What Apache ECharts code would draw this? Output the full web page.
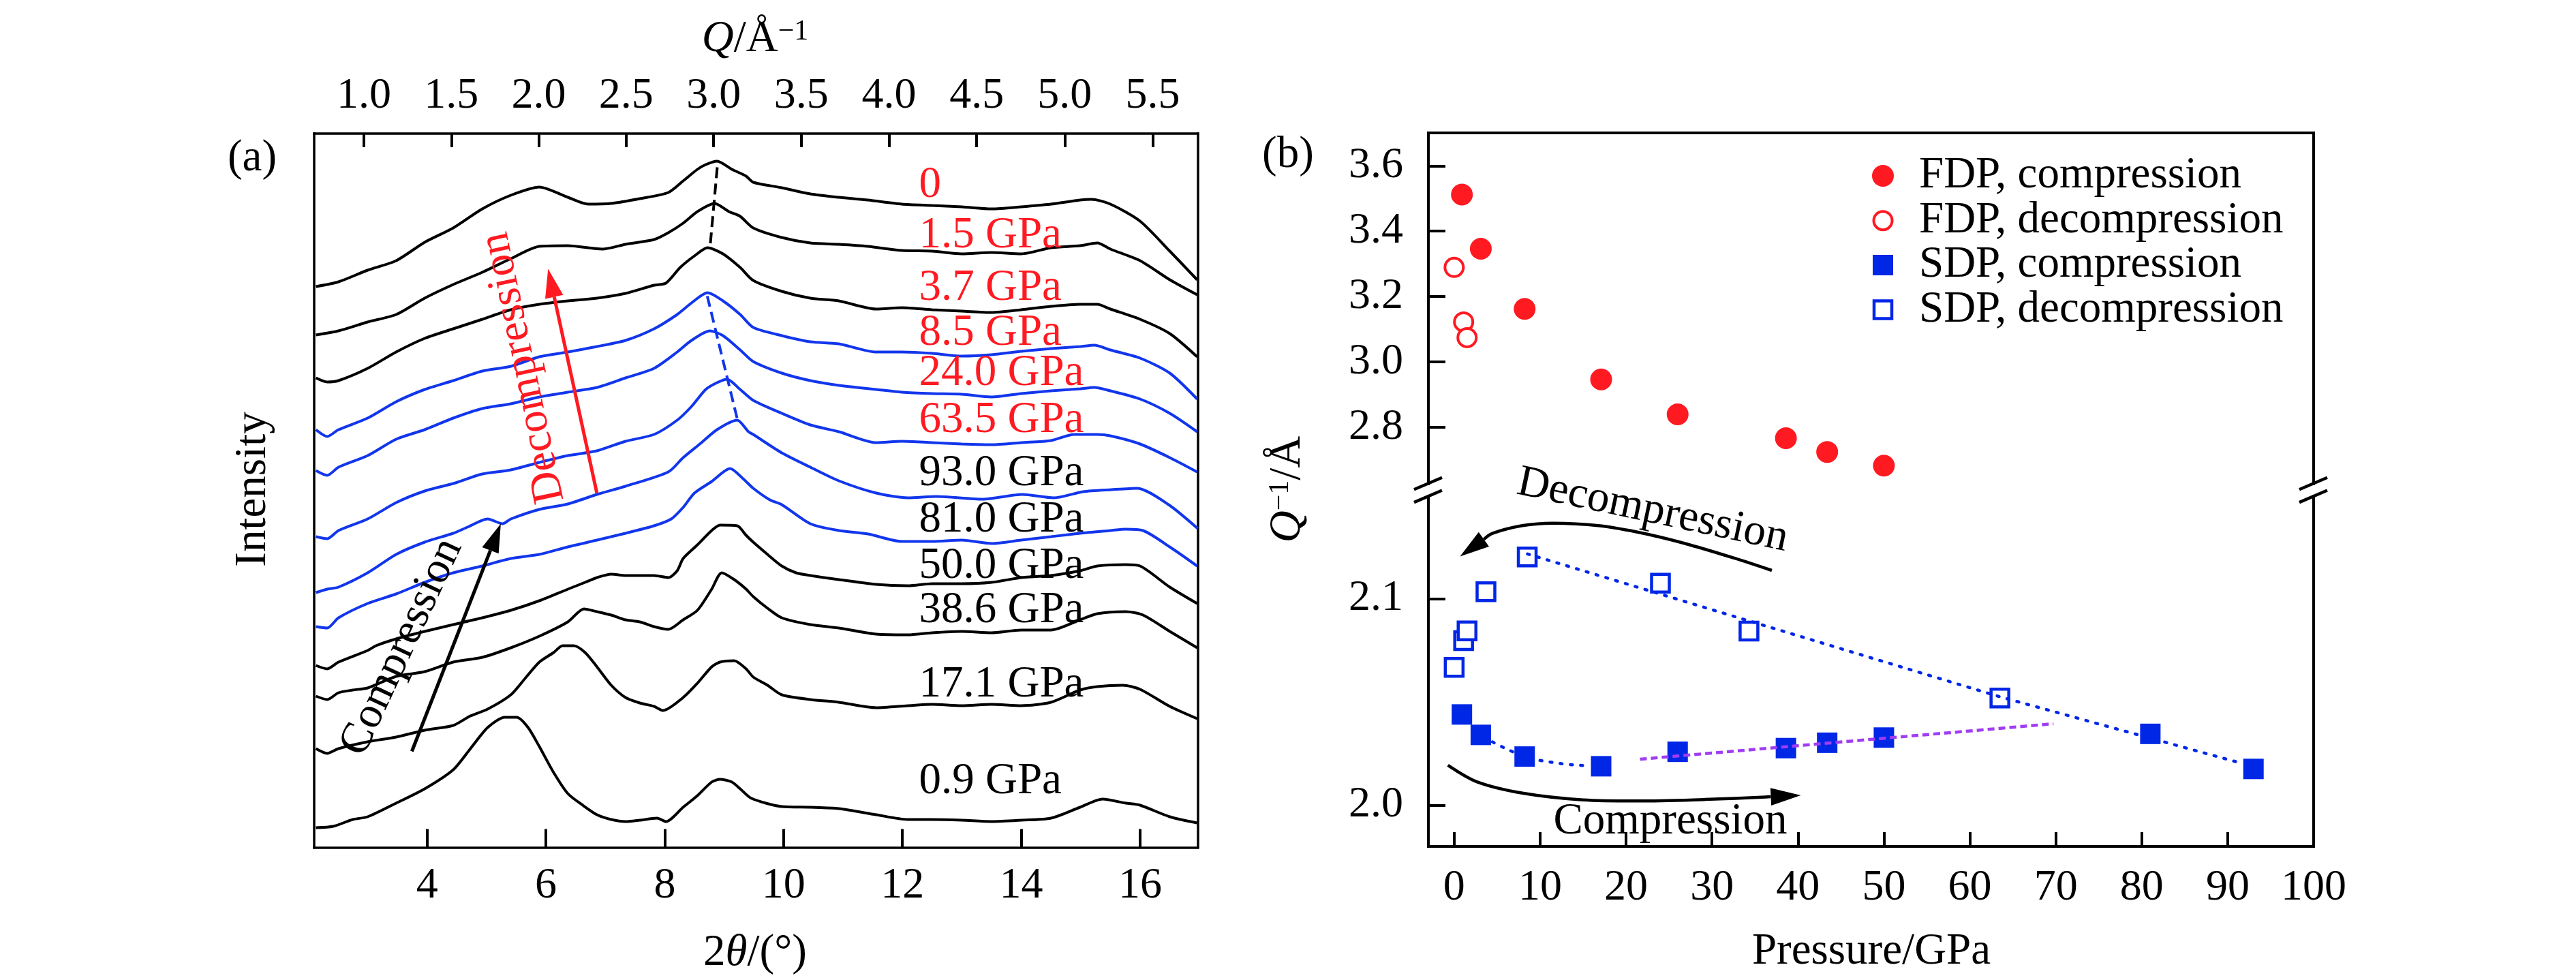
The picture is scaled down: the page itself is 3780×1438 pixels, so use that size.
<!DOCTYPE html>
<html><head><meta charset="utf-8">
<script src="https://cdn.jsdelivr.net/npm/echarts@6/dist/echarts.min.js"></script>
<style>html,body{margin:0;padding:0;background:#fff}#c{width:3780px;height:1438px}</style>
</head><body><div id="c"></div>
<script>
// ---------------- DATA : panel (a) XRD patterns [2theta, offset intensity] ----------------
const xrd_0 = [[2.13,823],[2.51,830],[3.0,847],[3.48,861],[3.96,888],[4.44,909],[4.93,937],[5.41,957],[5.89,969],[6.37,954],[6.71,944],[7.1,945],[7.58,952],[8.06,961],[8.31,978],[8.55,995],[8.69,1002],[8.88,1007],[9.13,995],[9.37,985],[9.49,976],[9.97,968],[10.45,959],[10.93,954],[11.42,950],[11.99,944],[12.5,942],[13.0,940],[13.5,937],[14.0,940],[14.5,944],[14.99,950],[15.18,951],[15.5,944],[16.0,919],[16.5,875],[16.96,833]];
const xrd_1_5 = [[2.13,752],[2.51,758],[3.0,771],[3.48,782],[3.96,806],[4.44,826],[4.93,844],[5.41,864],[5.89,882],[6.37,883],[6.95,878],[7.34,885],[7.82,892],[8.06,902],[8.31,916],[8.55,933],[8.84,945],[9.08,933],[9.27,926],[9.49,909],[9.97,895],[10.45,887],[10.93,885],[11.42,882],[11.99,876],[12.5,875],[13.0,871],[13.5,873],[14.0,871],[14.5,880],[14.99,883],[15.28,887],[15.5,878],[16.0,861],[16.5,833],[16.96,811]];
const xrd_3_7 = [[2.13,689],[2.32,683],[2.51,685],[3.0,703],[3.48,727],[3.96,747],[4.44,761],[4.93,775],[5.41,789],[5.89,797],[6.37,802],[6.86,806],[7.34,813],[7.82,825],[8.02,828],[8.26,851],[8.5,868],[8.72,880],[8.98,871],[9.27,851],[9.49,832],[9.97,816],[10.45,806],[10.93,802],[11.56,790],[11.99,792],[12.5,789],[13.0,787],[13.5,785],[14.0,789],[14.5,794],[14.99,797],[15.28,797],[15.5,790],[16.0,775],[16.5,754],[16.96,720]];
const xrd_8_5 = [[2.13,613],[2.32,603],[2.51,613],[3.0,630],[3.48,654],[3.96,672],[4.44,685],[4.93,699],[5.41,706],[5.89,720],[6.37,727],[6.86,735],[7.34,744],[7.82,761],[8.21,782],[8.45,799],[8.72,814],[8.98,802],[9.27,782],[9.49,763],[9.97,751],[10.45,742],[10.93,739],[11.56,727],[11.99,727],[12.5,725],[13.0,721],[13.5,723],[14.0,728],[14.5,732],[14.99,735],[15.23,737],[15.5,730],[16.0,718],[16.5,696],[16.96,658]];
const xrd_24_0 = [[2.13,553],[2.32,546],[2.51,558],[3.0,575],[3.48,599],[3.96,613],[4.44,630],[4.93,644],[5.41,651],[5.89,661],[6.37,668],[6.86,675],[7.34,689],[7.82,703],[8.21,727],[8.45,744],[8.76,758],[8.98,751],[9.27,730],[9.49,713],[9.97,696],[10.45,685],[10.93,678],[11.56,672],[11.99,668],[12.5,666],[13.0,665],[13.5,661],[14.0,666],[14.5,670],[14.99,673],[15.23,675],[15.5,670],[16.0,658],[16.5,637],[16.96,610]];
const xrd_63_5 = [[2.13,456],[2.32,453],[2.51,465],[3.0,482],[3.48,506],[3.96,523],[4.44,534],[4.93,548],[5.41,554],[5.89,565],[6.37,575],[6.86,582],[7.34,596],[7.82,606],[8.21,627],[8.45,647],[8.69,672],[8.88,682],[9.05,687],[9.27,672],[9.49,656],[9.97,637],[10.45,620],[10.93,610],[11.56,594],[11.99,596],[12.5,594],[13.0,592],[13.5,591],[14.0,594],[14.5,597],[14.89,606],[15.28,606],[15.5,604],[16.0,592],[16.5,572],[16.96,551]];
const xrd_93_0 = [[2.13,374],[2.32,379],[2.51,382],[3.0,403],[3.48,430],[3.96,448],[4.44,461],[4.68,470],[5.02,482],[5.27,475],[5.41,482],[5.89,496],[6.37,504],[6.86,518],[7.34,530],[8.06,551],[8.31,572],[8.59,592],[8.88,613],[9.22,627],[9.41,610],[9.49,606],[9.97,579],[10.45,558],[10.93,538],[11.56,520],[12.09,513],[12.57,515],[13.35,511],[14.02,518],[14.55,513],[15.04,522],[15.52,525],[15.95,527],[16.48,503],[16.97,468]];
const xrd_81_0 = [[2.13,324],[2.32,322],[2.51,337],[3.0,358],[3.48,372],[3.96,389],[4.44,403],[4.93,413],[5.41,424],[5.89,430],[6.37,441],[6.86,451],[7.34,461],[7.82,472],[8.11,482],[8.31,499],[8.5,520],[8.79,537],[9.1,556],[9.32,541],[9.49,527],[9.77,510],[9.97,503],[10.45,475],[10.93,465],[11.42,460],[11.99,449],[12.5,449],[13.0,451],[13.5,446],[14.0,451],[14.5,456],[14.99,461],[15.5,465],[15.76,467],[16.05,465],[16.5,441],[16.96,413]];
const xrd_50_0 = [[2.13,267],[2.32,262],[2.51,272],[3.0,289],[3.14,296],[3.48,306],[3.96,317],[4.44,327],[4.93,337],[5.41,348],[5.89,362],[6.37,379],[6.66,389],[6.86,396],[7.1,401],[7.34,399],[7.58,399],[7.82,399],[8.06,396],[8.21,406],[8.31,424],[8.55,444],[8.79,465],[8.93,473],[9.22,472],[9.37,458],[9.49,448],[9.73,430],[9.97,413],[10.21,403],[10.45,399],[10.93,393],[11.56,386],[12.09,384],[12.5,387],[13.0,387],[13.5,389],[14.0,396],[14.5,399],[14.99,406],[15.28,413],[15.76,415],[16.0,413],[16.5,382],[16.96,358]];
const xrd_38_6 = [[2.13,222],[2.32,217],[2.51,227],[2.75,231],[3.0,234],[3.48,251],[3.96,258],[4.44,272],[4.93,279],[5.41,293],[5.89,310],[6.37,331],[6.64,350],[6.86,346],[7.1,341],[7.34,334],[7.58,331],[7.82,324],[8.06,320],[8.31,334],[8.55,348],[8.79,379],[8.96,403],[9.17,393],[9.37,379],[9.49,368],[9.73,351],[9.97,337],[10.45,327],[10.93,322],[11.56,313],[12.09,312],[12.5,315],[13.0,317],[13.5,315],[14.0,319],[14.5,319],[14.99,334],[15.28,343],[15.76,346],[16.05,341],[16.5,317],[16.96,293]];
const xrd_17_1 = [[2.13,145],[2.32,138],[2.51,145],[3.0,155],[3.48,162],[3.96,172],[4.44,179],[4.73,193],[5.02,203],[5.41,224],[5.65,248],[5.89,272],[6.13,286],[6.28,296],[6.47,296],[6.66,286],[6.86,265],[7.1,238],[7.34,220],[7.58,212],[7.82,207],[7.97,201],[8.31,220],[8.55,241],[8.79,265],[8.93,272],[9.17,274],[9.37,262],[9.49,250],[9.73,238],[9.97,224],[10.45,217],[10.93,213],[11.56,205],[12.09,208],[12.5,210],[13.0,208],[13.5,210],[14.0,208],[14.5,213],[14.99,231],[15.28,236],[15.71,238],[16.0,232],[16.5,207],[16.96,189]];
const xrd_0_9 = [[2.13,29],[2.42,31],[2.75,41],[3.0,45],[3.48,65],[3.96,86],[4.44,114],[4.73,145],[5.02,176],[5.31,191],[5.51,191],[5.7,176],[5.89,148],[6.13,110],[6.37,79],[6.62,62],[6.86,48],[7.1,41],[7.34,38],[7.58,40],[7.87,43],[8.02,38],[8.31,59],[8.55,76],[8.79,96],[8.93,100],[9.13,96],[9.27,86],[9.46,72],[9.97,60],[10.45,59],[10.93,57],[11.56,48],[12.09,41],[12.5,41],[13.0,40],[13.5,38],[14.0,40],[14.5,43],[14.99,59],[15.37,71],[15.76,65],[16.0,62],[16.5,45],[16.96,36]];
const xrdLabels = ['0','1.5 GPa','3.7 GPa','8.5 GPa','24.0 GPa','63.5 GPa','93.0 GPa','81.0 GPa','50.0 GPa','38.6 GPa','17.1 GPa','0.9 GPa'];
const peakGuideBlack = [[8.884,998],[8.764,882]];
const peakGuideBlue = [[8.716,809],[9.223,628]];
// tick labels
const twoThetaTicks = [4,6,8,10,12,14,16];
const qTickValues = [1.0,1.5,2.0,2.5,3.0,3.5,4.0,4.5,5.0,5.5];
const qTickLabels = ['1.0','1.5','2.0','2.5','3.0','3.5','4.0','4.5','5.0','5.5'];
const WAVELENGTH = 0.3222; // Angstrom, Q = 4*pi*sin(theta)/lambda

// ---------------- DATA : panel (b) ----------------
const fdpCompP = [0.9,3.1,8.2,17.1,26.0,38.6,43.4,50.0];
const fdpCompQ = [3.512,3.346,3.162,2.946,2.839,2.766,2.724,2.682];
const fdpDecP = [0.0,1.1,1.5];
const fdpDecQ = [3.289,3.122,3.074];
const sdpCompP = [0.9,3.1,8.2,17.1,26.0,38.6,43.4,50.0,81.0,93.0];
const sdpCompQ = [2.0439,2.0340,2.0235,2.0188,2.0258,2.0276,2.0302,2.0327,2.0345,2.0175];
const sdpDecP = [0.0,1.1,1.5,3.7,8.5,24.0,34.3,63.5];
const sdpDecQ = [2.0667,2.0797,2.0844,2.1034,2.1202,2.1075,2.0843,2.0519];
const sdpDecFit = [[8.53,2.1217],[63.56,2.0524],[91.24,2.0207]];
const sdpCompFit = [[4.46,2.0306],[8.25,2.0235],[12.24,2.0202],[15.43,2.0191]];
const sdpCompFit2 = [[21.62,2.0222],[69.73,2.0394]];
const pressureTicks = [0,10,20,30,40,50,60,70,80,90,100];
const qUpperTicks = [2.8,3.0,3.2,3.4,3.6];
const qLowerTicks = [2.0,2.1];
const legendNames = ['FDP, compression','FDP, decompression','SDP, compression','SDP, decompression'];

// annotation arrows (data coordinates)
const arrowDecA = [[6.858,520],[6.037,849]];
const arrowCompA = [[3.744,141],[5.241,475]];
const arrowDecB = [[36.96,2.1137],[32.71,2.1195],[27.41,2.1261],[22.09,2.1316],[16.78,2.1354],[11.48,2.1366],[7.93,2.1354],[4.40,2.1316],[0.68,2.1205]];
const arrowCompB = [[-0.73,2.0193],[2.63,2.0113],[7.93,2.0058],[15.01,2.0025],[22.09,2.0020],[29.18,2.0027],[36.25,2.0039],[40.33,2.0047]];

// ---------------- STYLE / LAYOUT ----------------
const FONT = 'Liberation Serif';
const RED = '#FF1A22';
const BLUE = '#0026E6';
const CBLUE = '#1236EC';
const PURPLE = '#A03DF2';
const G0 = {left:461, top:196, width:1296.5, height:1047.5};
const G1 = {left:2096, top:195, width:1299, height:515};
const G2 = {left:2096, top:728, width:1299, height:514};

const zip = (a,b) => a.map((v,i)=>[v,b[i]]);
const qTickPos = qTickValues.map(q => 2*Math.asin(q*WAVELENGTH/(4*Math.PI))*180/Math.PI);
function qLabel(v){ let b=0; for(let i=1;i<qTickPos.length;i++){ if(Math.abs(qTickPos[i]-v)<Math.abs(qTickPos[b]-v)) b=i; } return qTickLabels[b]; }

const lblFont = {fontFamily:FONT, fontSize:64, color:'#000'};
function lineOnly(extra, w){
  return Object.assign({type:'value', axisLine:{show:true,onZero:false,lineStyle:{color:'#000',width:w,cap:'square'}},
    axisTick:{show:false}, axisLabel:{show:false}, splitLine:{show:false}}, extra);
}
function tickAxis(extra, w, ticks, tlen, margin, fmt){
  return Object.assign({type:'value', axisLine:{show:true,onZero:false,lineStyle:{color:'#000',width:w,cap:'square'}},
    axisTick:{show:true, inside:true, length:tlen, customValues:ticks, lineStyle:{color:'#000',width:4}},
    axisLabel:Object.assign({show:true, customValues:ticks, margin:margin, formatter:fmt}, lblFont),
    splitLine:{show:false}}, extra);
}

const curveList = [
  [xrd_0,'#000'],[xrd_1_5,'#000'],[xrd_3_7,'#000'],[xrd_8_5,CBLUE],[xrd_24_0,CBLUE],[xrd_63_5,CBLUE],
  [xrd_93_0,CBLUE],[xrd_81_0,CBLUE],[xrd_50_0,'#000'],[xrd_38_6,'#000'],[xrd_17_1,'#000'],[xrd_0_9,'#000']];

// label anchors for panel (a) curve names (2theta, intensity)
const labelAnchorX = 12.28;
const labelAnchorY = [972,898,821,755,696,627,549,481,413,348,239,97];

function arrowSeries(pts, xi, yi, color, width, headLen, headW){
  return {type:'custom', xAxisIndex:xi, yAxisIndex:yi, silent:true, z:6, clip:false,
    data:[pts[0]], encode:{x:0,y:1},
    renderItem:function(params, api){
      const p = pts.map(d => api.coord(d));
      const n = p.length, tip = p[n-1], prev = p[n-2];
      let dx = tip[0]-prev[0], dy = tip[1]-prev[1]; const L = Math.hypot(dx,dy); dx/=L; dy/=L;
      const base = [tip[0]-dx*headLen, tip[1]-dy*headLen];
      const nx = -dy, ny = dx;
      const line = p.slice(0,n-1).concat([base]);
      return {type:'group', children:[
        {type:'polyline', shape:{points:line, smooth: n>2?0.3:0}, style:{stroke:color, lineWidth:width, fill:null}},
        {type:'polygon', shape:{points:[tip,[base[0]+nx*headW/2,base[1]+ny*headW/2],[base[0]-nx*headW/2,base[1]-ny*headW/2]]}, style:{fill:color}}
      ]};
    }};
}
function textSeries(items, xi, yi){
  return {type:'scatter', xAxisIndex:xi, yAxisIndex:yi, silent:true, z:7, symbolSize:0.1,
    itemStyle:{color:'rgba(0,0,0,0)', opacity:1},
    data: items.map(it => ({value:[it.x,it.y], label:{show:true, formatter:it.text, color:it.color, opacity:1, rotate:it.rot||0,
      position:[0,0], align:it.align||'center', verticalAlign:'middle', fontFamily:FONT, fontSize:it.size||65}}))};
}

const series = [];
curveList.forEach(([d,c]) => series.push({type:'line', xAxisIndex:0, yAxisIndex:0, data:d, showSymbol:false, smooth:0.25,
  lineStyle:{color:c, width:4}, silent:true, z:2}));
series.push({type:'line', xAxisIndex:0, yAxisIndex:0, data:peakGuideBlack, showSymbol:false, silent:true, z:3,
  lineStyle:{color:'#000', width:4, type:[16,8]}});
series.push({type:'line', xAxisIndex:0, yAxisIndex:0, data:peakGuideBlue, showSymbol:false, silent:true, z:3,
  lineStyle:{color:CBLUE, width:4, type:[16,8]}});
series.push(textSeries(xrdLabels.map((t,i)=>({x:labelAnchorX, y:labelAnchorY[i], text:t, color: i<6?RED:'#000', align:'left'})), 0, 0));
series.push(arrowSeries(arrowDecA, 0, 0, RED, 5, 42, 27));
series.push(arrowSeries(arrowCompA, 0, 0, '#000', 5, 42, 26));
series.push(textSeries([
  {x:5.623, y:704, text:'Decompression', color:RED, rot:102},
  {x:3.578, y:294, text:'Compression', color:'#000', rot:65}], 0, 0));

// panel b
series.push({name:legendNames[0], type:'scatter', xAxisIndex:2, yAxisIndex:2, data:zip(fdpCompP,fdpCompQ),
  symbol:'circle', symbolSize:32, itemStyle:{color:RED, opacity:1}, z:3});
series.push({name:legendNames[1], type:'scatter', xAxisIndex:2, yAxisIndex:2, data:zip(fdpDecP,fdpDecQ),
  symbol:'circle', symbolSize:27, itemStyle:{color:'#fff', borderColor:RED, borderWidth:4, opacity:1}, z:3});
series.push({name:legendNames[2], type:'scatter', xAxisIndex:3, yAxisIndex:4, data:zip(sdpCompP,sdpCompQ),
  symbol:'rect', symbolSize:30, itemStyle:{color:BLUE, opacity:1}, z:3});
series.push({name:legendNames[3], type:'scatter', xAxisIndex:3, yAxisIndex:4, data:zip(sdpDecP,sdpDecQ),
  symbol:'rect', symbolSize:26, itemStyle:{color:'#fff', borderColor:BLUE, borderWidth:4.5, opacity:1}, z:3});
series.push({type:'line', xAxisIndex:3, yAxisIndex:4, data:sdpDecFit, showSymbol:false, silent:true, z:4,
  lineStyle:{color:BLUE, width:4.5, type:[3,12], cap:'round'}});
series.push({type:'line', xAxisIndex:3, yAxisIndex:4, data:sdpCompFit, showSymbol:false, silent:true, z:4, smooth:0.4,
  lineStyle:{color:BLUE, width:4.5, type:[3,12], cap:'round'}});
series.push({type:'line', xAxisIndex:3, yAxisIndex:4, data:sdpCompFit2, showSymbol:false, silent:true, z:4,
  lineStyle:{color:PURPLE, width:4.5, type:[10,6]}});
series.push(arrowSeries(arrowDecB, 3, 4, '#000', 4.5, 43, 26));
series.push(arrowSeries(arrowCompB, 3, 4, '#000', 4.5, 44, 26));
series.push(textSeries([
  {x:23.09, y:2.1426, text:'Decompression', color:'#000', rot:-12},
  {x:25.15, y:1.9920, text:'Compression', color:'#000'}], 3, 4));

const rich = {
  r:{fontFamily:FONT, fontSize:65, fill:'#000'},
  i:{fontFamily:FONT, fontSize:65, fontStyle:'italic', fill:'#000'},
  s:{fontFamily:FONT, fontSize:42, fill:'#000', verticalAlign:'top'}
};
function gtext(x,y,text,rot){
  return {type:'text', x:x, y:y, rotation:(rot||0)*Math.PI/180, silent:true,
    style:{text:text, rich:rich, fontFamily:FONT, fontSize:65, fill:'#000', align:'center', verticalAlign:'middle'}};
}
function slash(X, yc){
  return {type:'line', silent:true, shape:{x1:X-21, y1:yc+8.8, x2:X+20, y2:yc-8.8}, style:{stroke:'#000', lineWidth:4.5}};
}
// legend (drawn as graphic): icon centre x, text left x, row centres
const LEG = {ix:2763, tx:2816, rows:[258,323.7,389,454.6]};
const legendGraphic = [
  {type:'circle', silent:true, shape:{cx:LEG.ix, cy:LEG.rows[0], r:16}, style:{fill:RED}},
  {type:'circle', silent:true, shape:{cx:LEG.ix, cy:LEG.rows[1], r:13.5}, style:{fill:'#fff', stroke:RED, lineWidth:4}},
  {type:'rect', silent:true, shape:{x:LEG.ix-15, y:LEG.rows[2]-15, width:30, height:30}, style:{fill:BLUE}},
  {type:'rect', silent:true, shape:{x:LEG.ix-13, y:LEG.rows[3]-13, width:26, height:26}, style:{fill:'#fff', stroke:BLUE, lineWidth:4.5}}
].concat(legendNames.map((t,i)=>({type:'text', silent:true, x:LEG.tx, y:LEG.rows[i],
  style:{text:t, fontFamily:FONT, fontSize:65, fill:'#000', align:'left', verticalAlign:'middle'}})));

const chart = echarts.init(document.getElementById('c'), null, {renderer:'canvas'});
chart.setOption({
  animation:false,
  backgroundColor:'#fff',
  grid:[Object.assign({containLabel:false, outerBoundsMode:'none'},G0),
        Object.assign({containLabel:false, outerBoundsMode:'none'},G1),
        Object.assign({containLabel:false, outerBoundsMode:'none'},G2)],
  xAxis:[
    tickAxis({gridIndex:0, position:'bottom', min:2.1, max:16.97}, 3.5, twoThetaTicks, 27, 25, v=>String(v)),
    tickAxis({gridIndex:0, position:'top', min:2.1, max:16.97}, 3.5, qTickPos, 20, 23, qLabel),
    lineOnly({gridIndex:1, position:'top', min:-3, max:100}, 4),
    tickAxis({gridIndex:2, position:'bottom', min:-3, max:100}, 4, pressureTicks, 21, 29, v=>String(v))
  ],
  yAxis:[
    lineOnly({gridIndex:0, position:'left', min:0, max:1047.5}, 3.5),
    lineOnly({gridIndex:0, position:'right', min:0, max:1047.5}, 3.5),
    tickAxis({gridIndex:1, position:'left', min:2.6262, max:3.7008}, 4, qUpperTicks, 25, 37, v=>v.toFixed(1)),
    lineOnly({gridIndex:1, position:'right', min:2.6262, max:3.7008}, 4),
    tickAxis({gridIndex:2, position:'left', min:1.97995, max:2.1497}, 4, qLowerTicks, 25, 37, v=>v.toFixed(1)),
    lineOnly({gridIndex:2, position:'right', min:1.97995, max:2.1497}, 4)
  ],
  graphic:[
    gtext(370,233,'{r|(a)}'),
    gtext(1890,228,'{r|(b)}'),
    gtext(1108,58,'{i|Q}{r|/Å}{s|−1}'),
    gtext(1108,1399,'{r|2}{i|θ}{r|/(°)}'),
    gtext(2746,1397,'{r|Pressure/GPa}'),
    gtext(372,718,'{r|Intensity}',90),
    gtext(1890,718,'{i|Q}{s|−1}{r|/Å}',90),
    slash(2096,709.5), slash(2096,728.3), slash(3395,709.5), slash(3395,728.3)
  ].concat(legendGraphic),
  series:series
});
</script></body></html>
